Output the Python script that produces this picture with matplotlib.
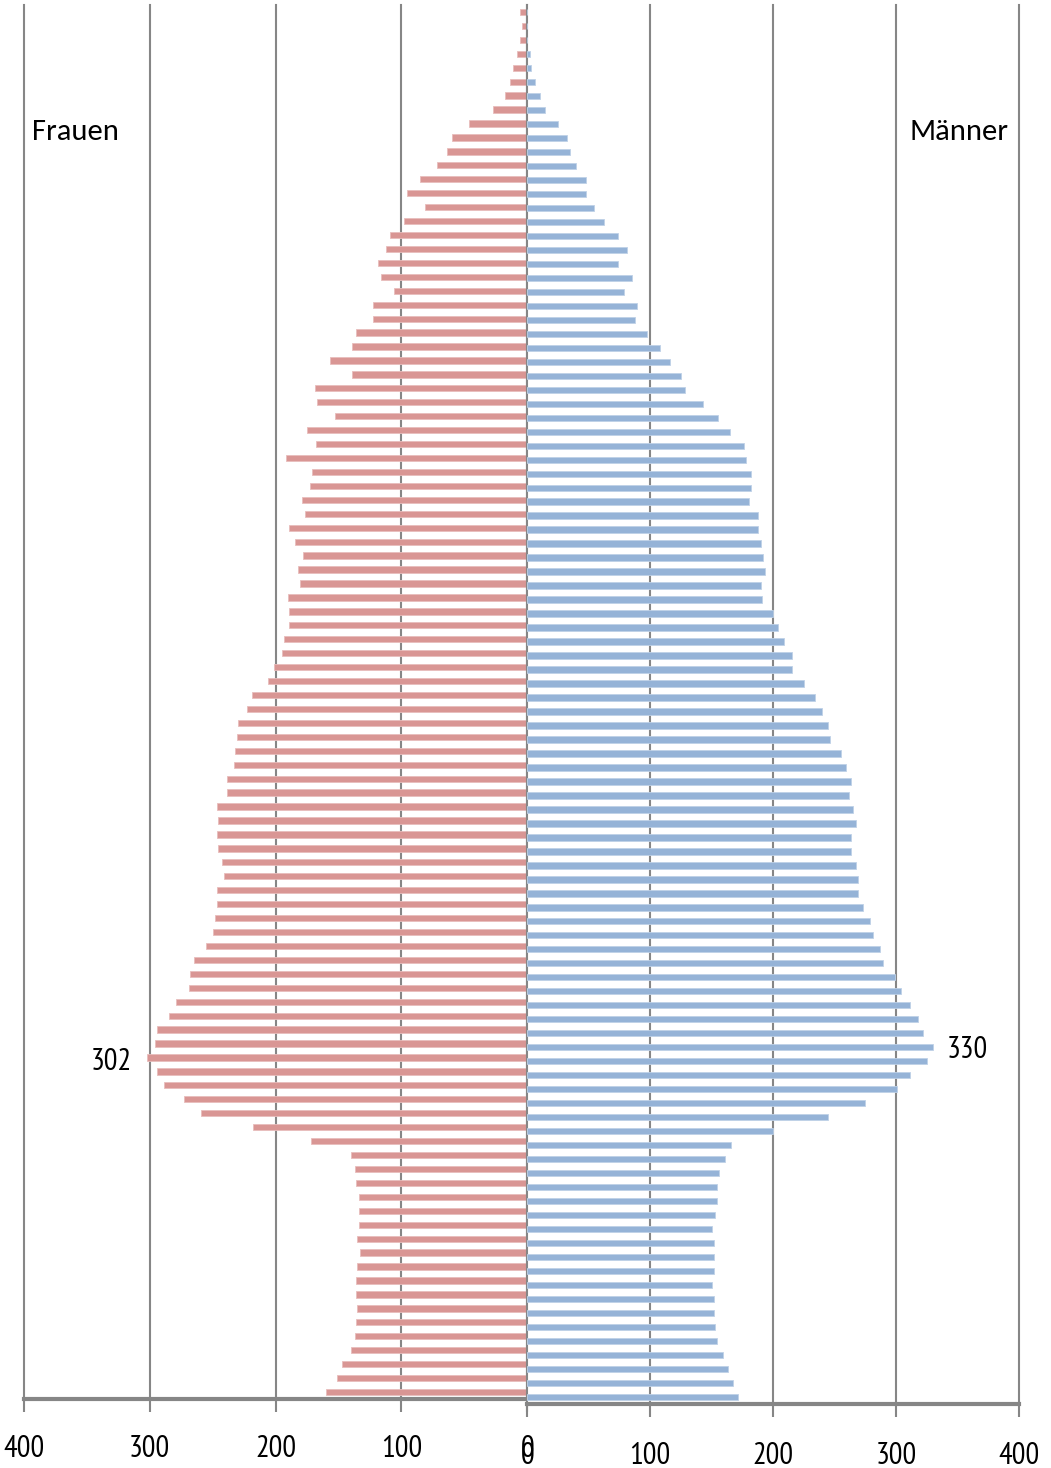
import numpy as np
import matplotlib
matplotlib.use("Agg")
import matplotlib.pyplot as plt

# Bevölkerung nach Alter (Tausend), Reihenfolge von Alter 99 (oben) bis 0 (unten)
alter = np.arange(99, -1, -1)
frauen = [6, 4, 6, 8, 11, 14, 18, 27, 46, 60,
          64, 72, 85, 96, 81, 98, 109, 112, 119, 116,
          106, 123, 123, 136, 139, 157, 139, 169, 167, 153,
          175, 168, 192, 171, 173, 179, 177, 189, 185, 178,
          182, 181, 190, 189, 189, 193, 195, 201, 206, 219,
          223, 230, 231, 232, 233, 239, 239, 247, 246, 247,
          246, 243, 241, 247, 247, 248, 250, 255, 265, 268,
          269, 279, 285, 294, 296, 302, 294, 289, 273, 259,
          218, 172, 140, 137, 136, 134, 134, 134, 135, 133,
          135, 136, 136, 135, 136, 137, 140, 147, 151, 160]
maenner = [0, 0, 0, 2, 3, 6, 10, 14, 25, 32,
           35, 40, 48, 48, 54, 62, 74, 81, 74, 85,
           79, 89, 88, 97, 108, 116, 125, 128, 143, 155,
           165, 176, 178, 182, 182, 180, 188, 188, 190, 192,
           193, 190, 191, 200, 204, 209, 215, 215, 225, 234,
           240, 245, 246, 255, 259, 263, 262, 265, 267, 263,
           263, 267, 269, 269, 273, 279, 281, 287, 289, 299,
           304, 311, 318, 322, 330, 325, 311, 301, 275, 245,
           200, 166, 161, 156, 154, 154, 153, 150, 152, 152,
           152, 150, 152, 152, 153, 154, 159, 163, 167, 171]
ticks = [0, 100, 200, 300, 400]

W, H = 1051, 1468
fig = plt.figure(figsize=(W / 100, H / 100), dpi=100)

grau = "#868686"
num_font = ["PT Sans Narrow", "Roboto Condensed", "Archivo Narrow",
            "Fira Sans Condensed", "DejaVu Sans"]
txt_font = ["Carlito", "Open Sans", "DejaVu Sans"]


def achse(left, bottom, right, top, pad):
    ax = fig.add_axes([left / W, 1 - bottom / H, (right - left) / W, (bottom - top) / H])
    ax.set_xlim(0, 400)
    ax.set_ylim(-0.5, 99.5)
    ax.set_xticks(ticks)
    ax.set_yticks([])
    for s in ["left", "right", "top"]:
        ax.spines[s].set_visible(False)
    ax.spines["bottom"].set_color(grau)
    ax.spines["bottom"].set_linewidth(3)
    ax.grid(axis="x", color=grau, linewidth=1.5)
    for gl in ax.get_xgridlines():
        gl.set_clip_on(False)
    ax.set_axisbelow(True)
    ax.tick_params(axis="x", direction="out", length=9, width=1.5, color=grau, pad=pad)
    for lab in ax.get_xticklabels():
        lab.set_fontfamily(num_font)
        lab.set_fontsize(22)
    return ax


# linke Hälfte: Frauen
ax1 = achse(24, 1399, 527.3, 5, 17)
ax1.invert_xaxis()
ax1.barh(alter, frauen, height=0.45, color="#D99694", edgecolor="#E8BDBC", linewidth=0.6, zorder=3)

# rechte Hälfte: Männer
ax2 = achse(527.3, 1404, 1019, 5, 18)
ax2.barh(alter, maenner, height=0.45, color="#95B3D7", edgecolor="#BFD1E7", linewidth=0.6, zorder=3)

# Maximalwerte beschriften
i_f = int(np.argmax(frauen))
ax1.annotate(str(frauen[i_f]), (frauen[i_f], alter[i_f]), xytext=(-11, -3),
             textcoords="offset points", ha="right", va="center",
             fontsize=22, family=num_font)
i_m = int(np.argmax(maenner))
ax2.annotate(str(maenner[i_m]), (maenner[i_m], alter[i_m]), xytext=(10, -2),
             textcoords="offset points", ha="left", va="center",
             fontsize=22, family=num_font)

fig.text(32 / W, 1 - 139.5 / H, "Frauen", fontsize=22, family=txt_font,
         ha="left", va="baseline")
fig.text(1009 / W, 1 - 139.5 / H, "Männer", fontsize=22, family=txt_font,
         ha="right", va="baseline")

fig.savefig("out.png", dpi=100)
